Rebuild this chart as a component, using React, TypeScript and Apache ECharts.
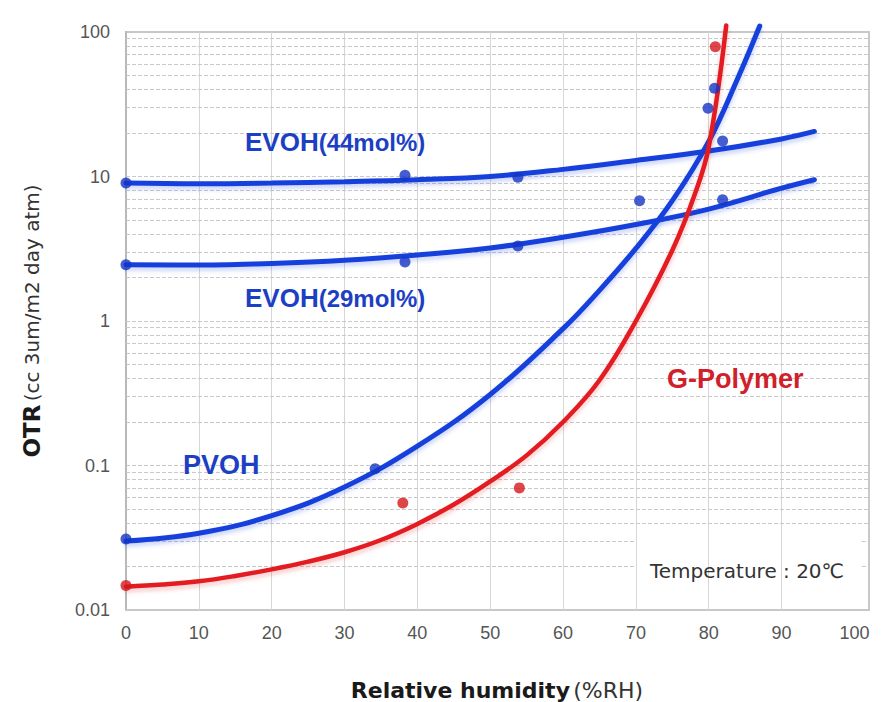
import React, { useEffect, useRef } from "react";
import * as echarts from "echarts";

// ---- data ----
const xTickLabels = ["0", "10", "20", "30", "40", "50", "60", "70", "80", "90", "100"];
const yTickValues = [0.01, 0.1, 1, 10, 100];
const yTickLabels = ["0.01", "0.1", "1", "10", "100"];

const evoh44Curve: [number, number][] = [
  [0, 9.0], [10, 8.9], [20, 9.0], [30, 9.2], [40, 9.5], [50, 10.0],
  [60, 11.2], [70, 12.9], [80, 15.0], [90, 18.2], [94.5, 20.5],
];
const evoh29Curve: [number, number][] = [
  [0, 2.45], [10, 2.44], [20, 2.5], [30, 2.63], [40, 2.86], [50, 3.2],
  [60, 3.8], [70, 4.65], [80, 5.95], [90, 8.3], [94.5, 9.5],
];
const pvohCurve: [number, number][] = [
  [0, 0.03], [10, 0.034], [20, 0.045], [30, 0.071], [40, 0.136], [50, 0.31],
  [60, 0.885], [65, 1.63], [70, 3.18], [75, 6.8], [80, 17.5], [84, 48], [87, 110],
];
const gPolymerCurve: [number, number][] = [
  [0, 0.0145], [5, 0.015], [10, 0.0158], [15, 0.0172], [20, 0.0191], [25, 0.0216],
  [30, 0.0251], [35, 0.0305], [40, 0.0394], [45, 0.0537], [50, 0.0776], [55, 0.1175],
  [60, 0.2], [65, 0.389], [70, 1.0], [75, 3.09], [78, 7.33], [80, 16.0], [82.4, 111],
];

const evohPoints: [number, number][] = [
  [0, 9.0], [38.3, 10.2], [53.8, 9.9],
  [0, 2.45], [38.3, 2.56], [53.8, 3.3],
  [70.5, 6.8], [81.9, 6.9], [81.9, 17.6], [79.9, 29.7], [80.8, 40.8],
];
const pvohPoints: [number, number][] = [[0, 0.031], [34.2, 0.095]];
const gPolymerPoints: [number, number][] = [[0, 0.0148], [38, 0.055], [54, 0.07], [80.9, 79]];

// grid-line positions
const xGridValues = [10, 20, 30, 40, 50, 60, 70, 80, 90];
const yDecades = [0.01, 0.1, 1, 10];
const yMultipliers = [1, 2, 3, 4, 5, 6, 7, 8, 9];

const BLUE = "#1740dc";
const BLUE_DOT = "#1535c4";
const BLUE_TEXT = "#1d3fc4";
const RED = "#e31b23";
const RED_TEXT = "#d0202a";
const FONT_A = "Liberation Sans, Arial, sans-serif";
const FONT_D = "DejaVu Sans, sans-serif";

function buildOption(): any {
  const hLines: any[] = [];
  yDecades.forEach((d) => {
    yMultipliers.forEach((m) => {
      const v = d * m;
      if (d === 0.01 && m === 1) return;
      if (v < 0.035) {
        hLines.push([{ coord: [0, v] }, { coord: [70, v] }]);
        hLines.push([{ coord: [101, v] }, { coord: [102, v] }]);
      } else {
        hLines.push({ yAxis: v });
      }
    });
  });
  const vLines = xGridValues.map((x) => ({
    xAxis: x,
    lineStyle: { type: "solid", color: "#d6d6d6", width: 1 },
  }));

  const curve = (name: string, data: [number, number][], color: string, width: number, shadow: string) => ({
    name,
    type: "line",
    data,
    smooth: 0.4,
    showSymbol: false,
    clip: false,
    silent: true,
    z: 10,
    lineStyle: {
      color,
      width,
      cap: "round",
      shadowColor: shadow,
      shadowBlur: 4,
      shadowOffsetY: 3,
    },
  });
  const dots = (name: string, data: [number, number][], color: string) => ({
    name,
    type: "scatter",
    data,
    symbolSize: 11,
    silent: true,
    z: 12,
    itemStyle: { color },
  });

  const evohRich = {
    b: { fontSize: 26, fontWeight: "bold", fontFamily: FONT_A, fill: BLUE_TEXT, color: BLUE_TEXT },
    s: { fontSize: 24, fontWeight: "bold", fontFamily: FONT_A, fill: BLUE_TEXT, color: BLUE_TEXT },
  };

  return {
    animation: false,
    backgroundColor: "#ffffff",
    grid: {
      left: 126,
      top: 32,
      right: 20,
      bottom: 92,
      show: true,
      borderColor: "#c8c8c8",
      borderWidth: 2,
    },
    xAxis: {
      type: "value",
      min: 0,
      max: 102,
      interval: 10,
      axisTick: { show: false },
      splitLine: { show: false },
      axisLine: { show: true, lineStyle: { color: "#c8c8c8", width: 2 } },
      axisLabel: {
        color: "#555",
        fontSize: 18,
        fontFamily: FONT_A,
        margin: 14,
        formatter: (v: number) => {
          const i = Math.round(v / 10);
          return Math.abs(v - i * 10) < 1e-6 && i < xTickLabels.length ? xTickLabels[i] : "";
        },
      },
    },
    yAxis: {
      type: "log",
      logBase: 10,
      min: 0.01,
      max: 100,
      axisTick: { show: false },
      splitLine: { show: false },
      minorSplitLine: { show: false },
      axisLine: { show: true, lineStyle: { color: "#b8b8b8", width: 2 } },
      axisLabel: {
        color: "#555",
        fontSize: 18,
        fontFamily: FONT_A,
        margin: 16,
        formatter: (v: number) => {
          const i = yTickValues.findIndex((t) => Math.abs(Math.log10(t) - Math.log10(v)) < 1e-6);
          return i >= 0 ? yTickLabels[i] : "";
        },
      },
    },
    series: [
      {
        name: "grid",
        type: "line",
        data: [[0, 1]],
        showSymbol: false,
        silent: true,
        z: 1,
        lineStyle: { opacity: 0 },
        markLine: {
          z: 1,
          silent: true,
          symbol: ["none", "none"],
          label: { show: false },
          animation: false,
          lineStyle: { type: [4, 2], color: "#c9c9c9", width: 1 },
          emphasis: { disabled: true },
          data: [...vLines, ...hLines],
        },
      },
      curve("EVOH(44mol%)", evoh44Curve, BLUE, 5, "rgba(40,70,220,0.25)"),
      curve("EVOH(29mol%)", evoh29Curve, BLUE, 5, "rgba(40,70,220,0.25)"),
      curve("PVOH", pvohCurve, BLUE, 5, "rgba(40,70,220,0.25)"),
      curve("G-Polymer", gPolymerCurve, RED, 4.5, "rgba(220,30,30,0.25)"),
      dots("EVOH points", evohPoints, BLUE_DOT),
      dots("PVOH points", pvohPoints, BLUE_DOT),
      dots("G-Polymer points", gPolymerPoints, "#d4161c"),
    ],
    graphic: [
      {
        type: "text",
        x: 245,
        y: 142,
        z: 20,
        style: {
          text: "{b|EVOH}{s|(44mol%)}",
          textVerticalAlign: "middle",
          verticalAlign: "middle",
          fill: BLUE_TEXT,
          rich: evohRich,
        },
      },
      {
        type: "text",
        x: 245,
        y: 298,
        z: 20,
        style: {
          text: "{b|EVOH}{s|(29mol%)}",
          textVerticalAlign: "middle",
          verticalAlign: "middle",
          fill: BLUE_TEXT,
          rich: evohRich,
        },
      },
      {
        type: "text",
        x: 183,
        y: 465,
        z: 20,
        style: {
          text: "PVOH",
          textVerticalAlign: "middle",
          verticalAlign: "middle",
          fill: BLUE_TEXT,
          font: "bold 27px 'Liberation Sans', Arial, sans-serif",
        },
      },
      {
        type: "text",
        x: 667,
        y: 379,
        z: 20,
        style: {
          text: "G-Polymer",
          textVerticalAlign: "middle",
          verticalAlign: "middle",
          fill: RED_TEXT,
          font: "bold 27px 'Liberation Sans', Arial, sans-serif",
        },
      },
      {
        type: "text",
        x: 650,
        y: 571,
        z: 20,
        style: {
          text: "Temperature : 20℃",
          textVerticalAlign: "middle",
          verticalAlign: "middle",
          fill: "#333",
          font: "20px 'DejaVu Sans', sans-serif",
        },
      },
      {
        type: "text",
        x: 32,
        y: 321,
        rotation: Math.PI / 2,
        z: 20,
        style: {
          text: "{b|OTR} {n|(cc 3um/m2 day atm)}",
          textAlign: "center",
          align: "center",
          textVerticalAlign: "middle",
          verticalAlign: "middle",
          fill: "#222",
          rich: {
            b: { fontSize: 23, fontWeight: "bold", fontFamily: FONT_D, fill: "#1a1a1a" },
            n: { fontSize: 20, fontFamily: FONT_D, fill: "#333" },
          },
        },
      },
      {
        type: "text",
        x: 497,
        y: 690,
        z: 20,
        style: {
          text: "{b|Relative humidity} {n|(%RH)}",
          textAlign: "center",
          align: "center",
          textVerticalAlign: "middle",
          verticalAlign: "middle",
          fill: "#222",
          rich: {
            b: { fontSize: 22, fontWeight: "bold", fontFamily: FONT_D, fill: "#1a1a1a" },
            n: { fontSize: 22, fontFamily: FONT_D, fill: "#333" },
          },
        },
      },
    ],
  };
}

export default function App() {
  const ref = useRef<HTMLDivElement>(null);
  useEffect(() => {
    if (!ref.current) return;
    const chart = echarts.init(ref.current, null, { renderer: "svg" });
    chart.setOption(buildOption());
    return () => chart.dispose();
  }, []);
  return (
    <div
      ref={ref}
      style={{ position: "absolute", left: 0, top: 0, width: 889, height: 702, background: "#fff" }}
    />
  );
}
